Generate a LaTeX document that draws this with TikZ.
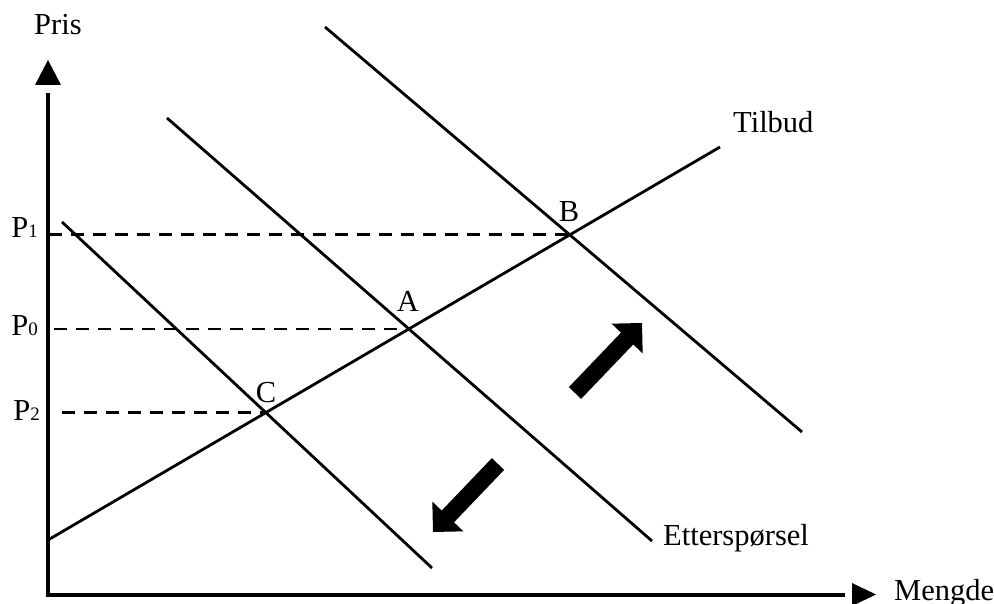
\documentclass[tikz,border=0pt]{standalone}
\usepackage{fontspec}
\setmainfont{Liberation Serif}
\usetikzlibrary{calc}

% thick block arrow from tail #1 to tip #2
\newcommand\fatarrow[2]{%
  \coordinate (#1n) at ($(#2)!21.5pt!(#1)$);
  \fill ($(#1)!8.5pt!90:(#2)$) -- ($(#1n)!8.5pt!90:(#2)$) -- ($(#1n)!21.5pt!90:(#2)$)
    -- (#2) -- ($(#1n)!21.5pt!-90:(#2)$) -- ($(#1n)!8.5pt!-90:(#2)$)
    -- ($(#1)!8.5pt!-90:(#2)$) -- cycle;}

\begin{document}
\begin{tikzpicture}[x=1pt,y=-1pt,
    axis/.style={line width=3.3pt},
    curve/.style={line width=2.8pt},
    guide/.style={line width=2.8pt, dash pattern=on 13pt off 9pt},
    lbl/.style={inner sep=0pt, font=\fontsize{30.5}{34}\selectfont},
    subfont/.style={font=\fontsize{19}{19}\selectfont}]
\useasboundingbox (0,0) rectangle (994,604);

% axes
\coordinate (O) at (48,595);
\coordinate (ytop) at (48,93);
\coordinate (xend) at (845,595);
\draw[axis] (ytop) -- (O) -- (xend);
\fill (35,85) -- (48,60) -- (61,85) -- cycle;
\fill (852,583) -- (876,594.5) -- (852,606) -- cycle;
\node[lbl, anchor=base west] (pris) at (34,35) {Pris};
\node[lbl, anchor=base west] (mengde) at (894,600) {Mengde};

% supply and demand curves
\coordinate (s0) at (48,540);
\coordinate (s1) at (720,147);
\coordinate (d1a) at (62,222);
\coordinate (d1b) at (432,568);
\coordinate (d2a) at (167,118);
\coordinate (d2b) at (652,541);
\coordinate (d3a) at (325,27);
\coordinate (d3b) at (802,432);
\draw[curve] (s0) -- (s1);
\draw[curve] (d1a) -- (d1b);
\draw[curve] (d2a) -- (d2b);
\draw[curve] (d3a) -- (d3b);

% equilibrium points
\coordinate (B) at (intersection of s0--s1 and d3a--d3b);
\coordinate (A) at (intersection of s0--s1 and d2a--d2b);
\coordinate (C) at (intersection of s0--s1 and d1a--d1b);

% price guides
\coordinate (g1) at (49,0);
\coordinate (g0) at (54,0);
\coordinate (g2) at (62,0);
\draw[guide] (g1 |- B) -- (B);
\draw[guide] (g0 |- A) -- (A);
\draw[guide] (g2 |- C) -- (C);

\node[lbl, anchor=base east] (p1) at (38,238) {P{\fontsize{19}{19}\selectfont 1}};
\node[lbl, anchor=base east] (p0) at (38,335) {P{\fontsize{19}{19}\selectfont 0}};
\node[lbl, anchor=base east] (p2) at (40,420) {P{\fontsize{19}{19}\selectfont 2}};

\node[lbl, anchor=base] (lB) at (569,222) {B};
\node[lbl, anchor=base] (lA) at (408,312) {A};
\node[lbl, anchor=base] (lC) at (266,402) {C};
\node[lbl, anchor=base west] (tilbud) at (733,133) {Tilbud};
\node[lbl, anchor=base west] (ett) at (663,545) {Etterspørsel};

% shift arrows
\coordinate (ut) at (575,393);
\coordinate (uh) at (642,323);
\coordinate (dt) at (498,464);
\coordinate (dh) at (433,532);
\fatarrow{ut}{uh}
\fatarrow{dt}{dh}
\end{tikzpicture}
\end{document}
